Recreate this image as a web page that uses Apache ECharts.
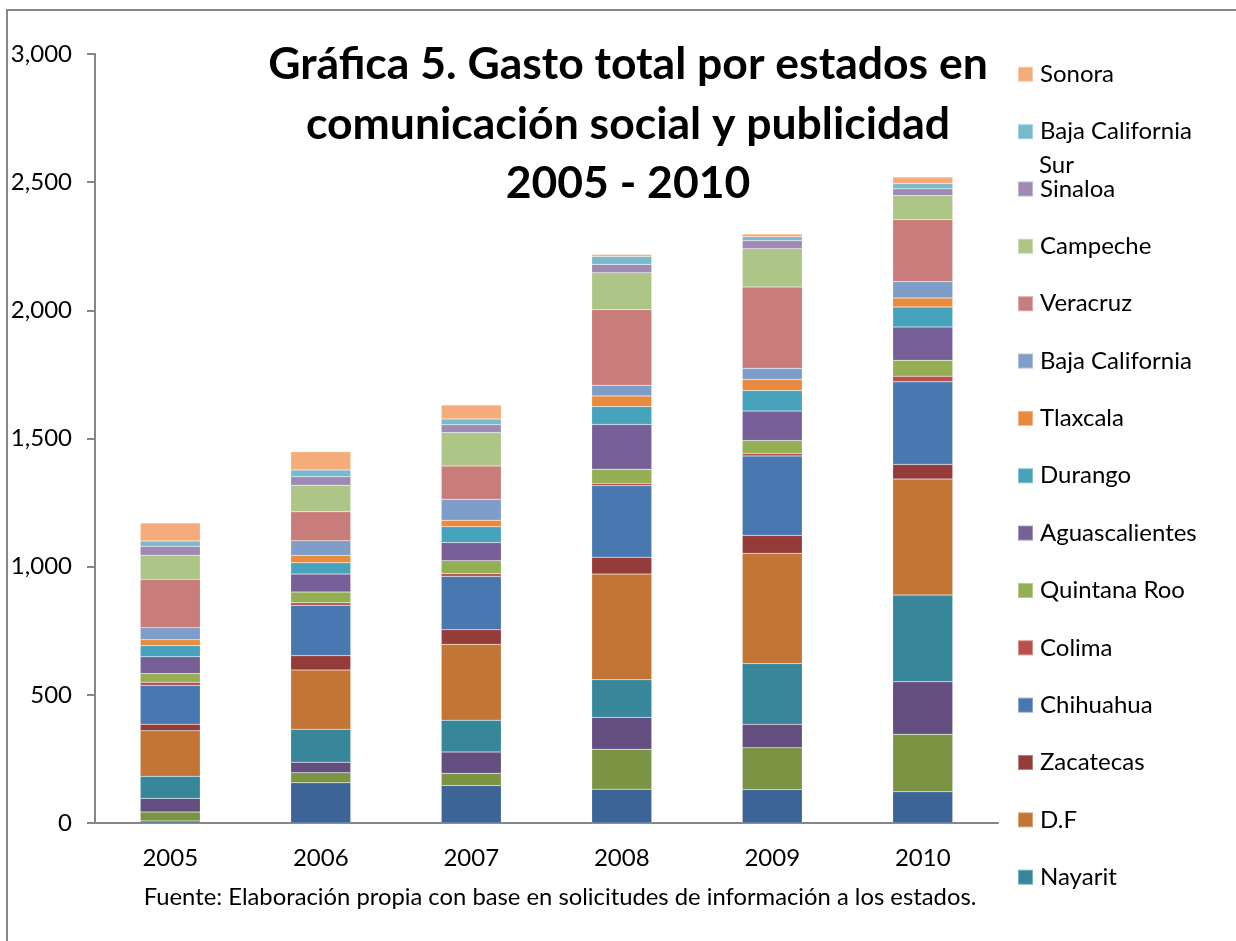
<!DOCTYPE html>
<html>
<head>
<meta charset="utf-8">
<script src="https://cdn.jsdelivr.net/npm/echarts@6/dist/echarts.min.js"></script>
<style>
  html, body { margin: 0; padding: 0; background: #fff; }
  #chart { width: 1236px; height: 941px; }
</style>
</head>
<body>
<div id="chart"></div>
<script>
// años
var years = ['2005', '2006', '2007', '2008', '2009', '2010'];

// series de abajo hacia arriba (las tres primeras no caben en la leyenda)
var jalisco      = [8, 157, 146, 132, 130, 122];
var edoMexico    = [35, 39, 48, 156, 164, 224];
var nuevoLeon    = [53, 41, 83, 124, 91, 205];
var nayarit      = [86, 129, 124, 147, 237, 338];
var df           = [178, 231, 296, 412, 430, 453];
var zacatecas    = [25, 56, 57, 66, 70, 57];
var chihuahua    = [152, 196, 208, 279, 310, 322];
var colima       = [12, 10, 11, 9, 10, 22];
var quintanaRoo  = [34, 42, 50, 55, 50, 62];
var aguas        = [66, 70, 71, 175, 115, 130];
var durango      = [43, 44, 62, 70, 80, 78];
var tlaxcala     = [23, 29, 25, 41, 43, 35];
var bajaCal      = [47, 57, 82, 42, 44, 64];
var veracruz     = [189, 113, 130, 295, 317, 242];
var campeche     = [93, 104, 130, 144, 149, 94];
var sinaloa      = [36, 33, 31, 32, 32, 26];
var bajaCalSur   = [20, 26, 22, 31, 15, 20];
var sonora       = [70, 71, 55, 8, 11, 26];

var yTicks = [0, 500, 1000, 1500, 2000, 2500, 3000];

var seriesDef = [
  ['Jalisco', jalisco, '#3c6496'],
  ['Estado de México', edoMexico, '#7a9444'],
  ['Nuevo León', nuevoLeon, '#634e7f'],
  ['Nayarit', nayarit, '#37869a'],
  ['D.F', df, '#c27535'],
  ['Zacatecas', zacatecas, '#953c3a'],
  ['Chihuahua', chihuahua, '#4978b0'],
  ['Colima', colima, '#b9504d'],
  ['Quintana Roo', quintanaRoo, '#93ae53'],
  ['Aguascalientes', aguas, '#775f97'],
  ['Durango', durango, '#47a2bb'],
  ['Tlaxcala', tlaxcala, '#e88b3f'],
  ['Baja California', bajaCal, '#7e9dc9'],
  ['Veracruz', veracruz, '#c97d7b'],
  ['Campeche', campeche, '#adc586'],
  ['Sinaloa', sinaloa, '#9e8ab5'],
  ['Baja California Sur', bajaCalSur, '#79b9ce'],
  ['Sonora', sonora, '#f6ac7a']
];

// nombres visibles en la leyenda, de arriba hacia abajo
var legendNames = ['Sonora', 'Baja California Sur', 'Sinaloa', 'Campeche', 'Veracruz',
  'Baja California', 'Tlaxcala', 'Durango', 'Aguascalientes', 'Quintana Roo',
  'Colima', 'Chihuahua', 'Zacatecas', 'D.F', 'Nayarit'];

var fontFam = 'Lato, "Open Sans", sans-serif';

var series = [];
for (var i = 0; i < seriesDef.length; i++) {
  series.push({
    name: seriesDef[i][0],
    type: 'bar',
    stack: 'total',
    barWidth: 60,
    data: seriesDef[i][1],
    itemStyle: { color: seriesDef[i][2], borderColor: 'rgba(255,255,255,0.35)', borderWidth: 0.5 }
  });
}

var legends = [];
for (var j = 0; j < legendNames.length; j++) {
  var cy = 74.3 + j * 57.35;
  legends.push({
    data: [legendNames[j]],
    left: 1017,
    top: cy - 14,
    padding: 0,
    icon: 'rect',
    itemWidth: 15,
    itemHeight: 15,
    selectedMode: false,
    formatter: function(name) {
      return name == 'Baja California Sur' ? 'Baja California' : name;
    },
    textStyle: { fontSize: 24, lineHeight: 28, color: '#000', fontFamily: fontFam, padding: [0, 0, 0, 2] }
  });
}

var myChart = echarts.init(document.getElementById('chart'));
var option = {
  backgroundColor: '#fff',
  animation: false,
  title: {
    text: 'Gráfica 5. Gasto total por estados en\ncomunicación social y publicidad\n2005 - 2010',
    left: 628,
    top: 35,
    padding: 0,
    textAlign: 'center',
    textStyle: { fontSize: 44.5, fontWeight: 'bold', lineHeight: 59.5, color: '#000', fontFamily: fontFam }
  },
  legend: legends,
  grid: { left: 95, right: 238, top: 54, bottom: 118 },
  xAxis: {
    type: 'category',
    data: years,
    axisLine: { lineStyle: { color: '#868686', width: 2 } },
    axisTick: { length: 8, lineStyle: { color: '#868686', width: 2 } },
    axisLabel: { fontSize: 24, color: '#000', margin: 23, fontFamily: fontFam }
  },
  yAxis: {
    type: 'value',
    min: yTicks[0],
    max: yTicks[yTicks.length - 1],
    interval: 500,
    splitLine: { show: false },
    axisLine: { show: true, lineStyle: { color: '#868686', width: 2 } },
    axisTick: { show: true, length: 8, lineStyle: { color: '#868686', width: 2 } },
    axisLabel: {
      fontSize: 24, color: '#000', margin: 23, fontFamily: fontFam,
      formatter: function(v) { return v.toLocaleString('en-US'); }
    }
  },
  graphic: [
    {
      type: 'rect',
      shape: { x: 7, y: 10, width: 1300, height: 1000 },
      style: { fill: 'none', stroke: '#868686', lineWidth: 2 },
      silent: true
    },
    {
      type: 'text',
      x: 1039,
      y: 165,
      style: { text: 'Sur', fontSize: 24, fill: '#000', fontFamily: fontFam, verticalAlign: 'middle' }
    },
    {
      type: 'text',
      x: 560,
      y: 897,
      style: {
        text: 'Fuente: Elaboración propia con base en solicitudes de información a los estados.',
        fontSize: 23.8, fill: '#000', fontFamily: fontFam, align: 'center', verticalAlign: 'middle'
      }
    }
  ],
  series: series
};
myChart.setOption(option);
</script>
</body>
</html>
